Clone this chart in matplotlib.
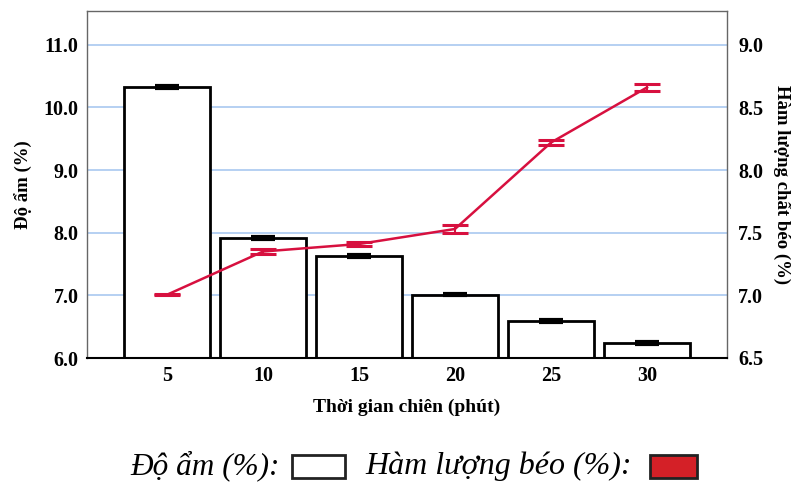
import numpy as np
import matplotlib.pyplot as plt
from matplotlib.patches import Rectangle

# dữ liệu
thoi_gian = ["5", "10", "15", "20", "25", "30"]
do_am = [10.32, 7.92, 7.63, 7.01, 6.59, 6.24]
do_am_err = [0.015, 0.015, 0.012, 0.012, 0.012, 0.012]
beo = [7.005, 7.35, 7.41, 7.53, 8.22, 8.66]
beo_err = [0.006, 0.02, 0.013, 0.032, 0.02, 0.027]

plt.rcParams['font.family'] = ['Liberation Serif', 'DejaVu Serif']

fig = plt.figure(figsize=(7.91, 4.84), dpi=100)
ax = fig.add_axes([87 / 791, 1 - 358 / 484, 640 / 791, 347 / 484])
x = np.arange(len(thoi_gian))

ax.bar(x, [v - 6.0 for v in do_am], bottom=6.0, width=0.9, color='white',
       edgecolor='black', linewidth=2.0, zorder=2)
ax.errorbar(x, do_am, yerr=do_am_err, fmt='none', ecolor='black',
            elinewidth=2, capsize=8.5, capthick=3, zorder=3)

ax.set_xlim(-0.833, 5.833)
ax.set_ylim(6.0, 11.54)
ax.set_yticks([6, 7, 8, 9, 10, 11])
ax.set_yticklabels(['6.0', '7.0', '8.0', '9.0', '10.0', '11.0'])
ax.set_xticks(x)
ax.set_xticklabels(thoi_gian)
ax.grid(axis='y', color='#a9c8f0', linewidth=1.2, zorder=0)
ax.set_axisbelow(True)
ax.tick_params(length=0, labelsize=14.5, pad=6)
for lab in ax.get_xticklabels() + ax.get_yticklabels():
    lab.set_fontweight('bold')
for s in ax.spines.values():
    s.set_color('#666666')
    s.set_linewidth(1)
ax.spines['bottom'].set_color('black')
ax.spines['bottom'].set_linewidth(1.5)
ax.set_xlabel('Thời gian chiên (phút)', fontsize=14, fontweight='bold', labelpad=9)
ax.set_ylabel('Độ ẩm (%)', fontsize=13.5, fontweight='bold', labelpad=8)

ax2 = ax.twinx()
ax2.set_ylim(6.5, 9.27)
ax2.set_yticks([6.5, 7.0, 7.5, 8.0, 8.5, 9.0])
ax2.set_yticklabels(['6.5', '7.0', '7.5', '8.0', '8.5', '9.0'])
ax2.tick_params(length=0, labelsize=14.5, pad=8)
for lab in ax2.get_yticklabels():
    lab.set_fontweight('bold')
for s in ax2.spines.values():
    s.set_visible(False)
ax2.plot(x, beo, color='#d7103f', linewidth=1.8, zorder=4)
ax2.errorbar(x, beo, yerr=beo_err, fmt='none', ecolor='#d7103f',
             elinewidth=1.5, capsize=9.5, capthick=2.2, zorder=4)
ax2.set_ylabel('Hàm lượng chất béo (%)', fontsize=13.5, fontweight='bold',
               rotation=270, labelpad=20)

# chú thích ở dưới
fig.text(130 / 791, 1 - 466 / 484, 'Độ ẩm (%):', fontsize=22.5, style='italic',
         va='center', ha='left')
fig.patches.append(Rectangle((292 / 791, 1 - 478 / 484), 53 / 791, 23 / 484,
                             transform=fig.transFigure, facecolor='white',
                             edgecolor='#222222', linewidth=2))
fig.text(365 / 791, 1 - 466 / 484, 'Hàm lượng béo (%):', fontsize=23,
         style='italic', va='center', ha='left')
fig.patches.append(Rectangle((650 / 791, 1 - 478 / 484), 47 / 791, 23 / 484,
                             transform=fig.transFigure, facecolor='#d42027',
                             edgecolor='#222222', linewidth=2))

fig.savefig('out.png', dpi=100)
